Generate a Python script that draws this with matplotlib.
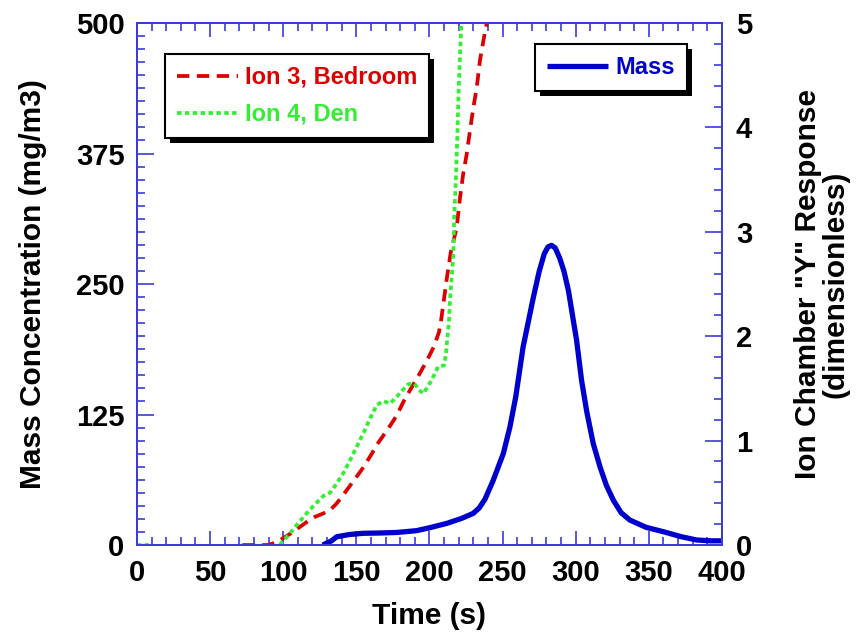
import numpy as np
import matplotlib
matplotlib.use("Agg")
import matplotlib.pyplot as plt
from matplotlib.ticker import MultipleLocator
from matplotlib.patches import Rectangle

plt.rcParams['font.family'] = ['Liberation Sans', 'DejaVu Sans']
plt.rcParams['font.weight'] = 'bold'

nan = np.nan

# Mass concentration (left axis, mg/m3)
mass_t = [127, 133, 136.6, 145, 154.6, 166, 177.5, 191, 200, 211.8, 222, 229.9, 234, 238,
          243.6, 250.5, 255, 259, 264, 271, 275, 278.5, 281, 283.5, 286, 289, 292, 295,
          300.6, 304, 307.5, 312, 316.6, 321, 325.7, 331, 337, 348, 360, 372, 382.7, 392, 400]
mass_y = [0, 4, 7.9, 10, 11.2, 11.5, 12, 13.7, 16.5, 20.7, 25.5, 30.3, 35.5, 44,
          62, 87.7, 113, 142, 189.6, 237, 262, 279, 285.5, 287, 284.5, 275, 262, 243.8,
          196, 157.7, 128, 97, 74.9, 57, 43, 31, 23.9, 17, 12.7, 8, 4.8, 4, 4]

# Ion chamber Y response (right axis)
ion3_t = [72, 80, 90, 93, 98, 103.5, 108, 112.6, 117, 121.7, 127, 132, 136, 140, 146.8,
          153.6, 159.3, 165, 171.8, 177.6, 182.1, 187.8, 192.8, 198, 203, 206.5, 207.9,
          209.5, 211.8, 214.5, 218.6, 220.9, 223, 225.4, 227.7, 230, 232.3, 234.5, 238, 239.5]
ion3_y = [0, 0, 0, 0.016, 0.05, 0.096, 0.14, 0.185, 0.23, 0.27, 0.30, 0.335, 0.39, 0.46, 0.59,
          0.72, 0.845, 0.98, 1.115, 1.24, 1.37, 1.51, 1.63, 1.76, 1.90, 2.04, 2.15,
          2.31, 2.55, 2.80, 3.04, 3.33, 3.55, 3.74, 3.97, 4.19, 4.38, 4.64, 4.92, 5.02]

ion4_t = [0, 8, nan, 97.8, 99, 104.6, 110.3, 118.3, 127.4, 132, 136.6, 141, 145.6, 150.2,
          154.8, 159.3, 163.9, 168.4, 173, 177.6, 182.1, 185.5, 189, 190.5, 192.4, 195.8,
          198.5, 201.5, 206, 210, 211.3, 212.2, 213.3, 214, 215.2, 216.3, 216.8, 218.1,
          219, 220, 220.9, 221.8, 222.2]
ion4_y = [0, 0, nan, 0, 0.026, 0.11, 0.21, 0.34, 0.47, 0.50, 0.59, 0.685, 0.81, 0.94,
          1.07, 1.21, 1.34, 1.38, 1.355, 1.42, 1.49, 1.54, 1.55, 1.53, 1.49, 1.45,
          1.51, 1.58, 1.71, 1.72, 1.83, 1.98, 2.13, 2.34, 2.57, 2.77, 3.11, 3.52,
          3.90, 4.38, 4.70, 4.99, 5.05]

x_ticks = [0, 50, 100, 150, 200, 250, 300, 350, 400]
left_ticks = [0, 125, 250, 375, 500]
right_ticks = [0, 1, 2, 3, 4, 5]

blue_axis = '#3b3bdc'
c_mass = '#0000cc'
c_ion3 = '#dd0000'
c_ion4 = '#33ee33'

fig = plt.figure(figsize=(8.6, 6.39), dpi=100)
ax1 = fig.add_subplot(111)
fig.subplots_adjust(left=0.1593, right=0.8395, bottom=0.1471, top=0.964)
ax2 = ax1.twinx()

l_mass, = ax1.plot(mass_t, mass_y, color=c_mass, lw=3.8, solid_capstyle='butt',
                   solid_joinstyle='round', label='Mass', zorder=3)
l3, = ax2.plot(ion3_t, ion3_y, color=c_ion3, lw=2.7, linestyle=(0, (3.3, 2.0)), label='Ion 3, Bedroom')
l4, = ax2.plot(ion4_t, ion4_y, color=c_ion4, lw=2.7, linestyle=(0, (1.2, 0.9)), label='Ion 4, Den')

ax1.set_xlim(0, 400)
ax1.set_ylim(0, 500)
ax2.set_ylim(0, 5)

ax1.set_xticks(x_ticks)
ax1.set_yticks(left_ticks)
ax2.set_yticks(right_ticks)
ax1.xaxis.set_minor_locator(MultipleLocator(10))
ax1.yaxis.set_minor_locator(MultipleLocator(12.5))
ax2.yaxis.set_minor_locator(MultipleLocator(0.2))

for ax in (ax1, ax2):
    for s in ax.spines.values():
        s.set_color(blue_axis)
        s.set_linewidth(1.3)
        s.set_zorder(5)

ax1.tick_params(axis='x', which='both', direction='in', top=True, bottom=True, color=blue_axis,
                width=1.2, labelsize=21, pad=10)
ax1.tick_params(axis='x', which='major', length=10)
ax1.tick_params(axis='x', which='minor', length=6)
ax1.tick_params(axis='y', which='both', direction='in', left=True, right=False, color=blue_axis,
                width=1.2, labelsize=21, pad=9)
ax1.tick_params(axis='y', which='major', length=12)
ax1.tick_params(axis='y', which='minor', length=6)
ax2.tick_params(axis='y', which='both', direction='in', right=True, left=False, color=blue_axis,
                width=1.2, labelsize=21, pad=10)
ax2.tick_params(axis='y', which='major', length=12)
ax2.tick_params(axis='y', which='minor', length=6)

for lab in ax1.get_xticklabels() + ax1.get_yticklabels() + ax2.get_yticklabels():
    lab.set_fontweight('bold')

ax1.set_xlabel('Time (s)', fontsize=21.5, fontweight='bold', labelpad=11)
ax1.set_ylabel('Mass Concentration (mg/m3)', fontsize=21.5, fontweight='bold', labelpad=21)
ax2.set_ylabel('Ion Chamber "Y" Response\n(dimensionless)', fontsize=21.5, fontweight='bold',
               labelpad=30, multialignment='center', linespacing=1.0)

leg_kw = dict(frameon=True, fancybox=False, shadow=False,
              prop={'size': 17, 'weight': 'bold'}, labelcolor='linecolor',
              handlelength=2.6, handletextpad=0.3, borderpad=0.5, labelspacing=0.6,
              loc='upper left', framealpha=1, borderaxespad=0)
leg2 = ax2.legend(handles=[l3, l4], bbox_to_anchor=(165 / 860, 1 - 54 / 639),
                  bbox_transform=fig.transFigure, **leg_kw)
leg2.get_frame().set_edgecolor('black')
leg2.get_frame().set_linewidth(1.5)
leg1 = ax2.legend(handles=[l_mass], bbox_to_anchor=(535 / 860, 1 - 44 / 639),
                  bbox_transform=fig.transFigure, **leg_kw)
leg1.get_frame().set_edgecolor('black')
leg1.get_frame().set_linewidth(1.5)
ax2.add_artist(leg2)

# hard black drop shadows behind the legend boxes
fig.canvas.draw()
for lg in (leg1, leg2):
    bb = lg.get_frame().get_window_extent()
    sh = Rectangle((bb.x0 + 5, bb.y0 - 5), bb.width, bb.height, transform=None,
                   facecolor='black', edgecolor='none', zorder=lg.get_zorder() - 0.1,
                   clip_on=False)
    ax2.add_artist(sh)

fig.savefig('out.png', dpi=100)
